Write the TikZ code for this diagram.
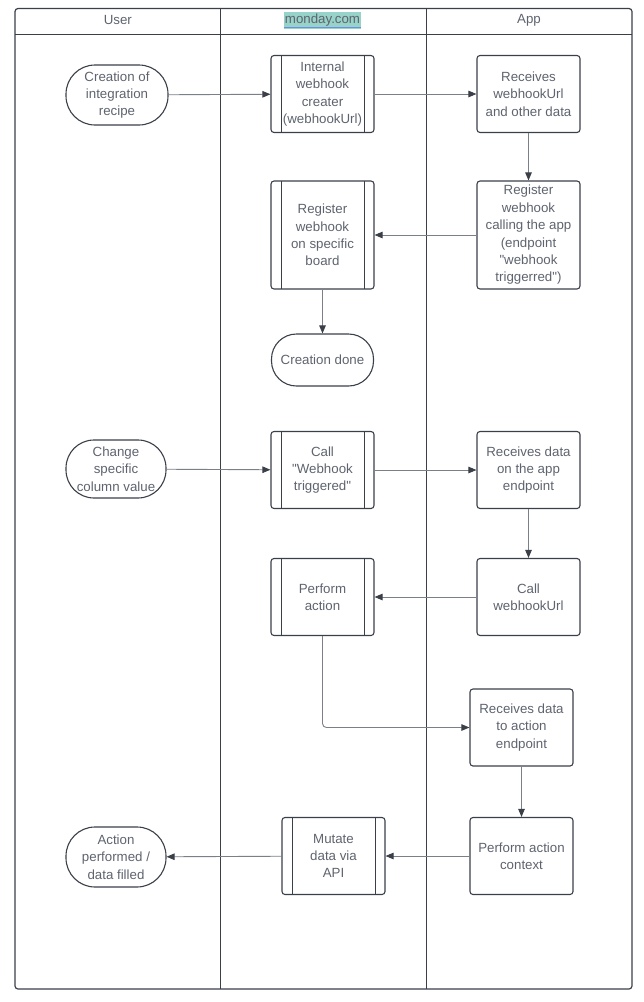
\documentclass[tikz,border=0pt]{standalone}
\usepackage{fontspec}
\setmainfont{Liberation Sans}
\usetikzlibrary{arrows.meta}
\definecolor{txt}{HTML}{5E636E}
\definecolor{frm}{HTML}{3B3F48}
\definecolor{con}{HTML}{7A7F88}
\definecolor{hl}{HTML}{97D3C8}
\definecolor{ul}{HTML}{6A8EE0}
\newcommand{\qq}{\XeTeXglyph\XeTeXcharglyph34\relax}
\tikzset{
  base/.style={draw=frm, line width=1.1pt, text=txt, align=center,
    font=\fontsize{13.3}{17.4}\selectfont, inner sep=1pt},
  terminal/.style={base, minimum width=102pt, minimum height=60pt, rounded corners=29pt},
  procbox/.style={base, minimum width=103pt, minimum height=77pt, rounded corners=3pt},
  subproc/.style={procbox, path picture={
      \draw[frm, line width=0.9pt] ([xshift=10pt]path picture bounding box.north west) -- ([xshift=10pt]path picture bounding box.south west);
      \draw[frm, line width=0.9pt] ([xshift=-10pt]path picture bounding box.north east) -- ([xshift=-10pt]path picture bounding box.south east);}},
  conn/.style={draw=con, line width=0.9pt, -{Triangle[length=8pt,width=6.5pt,fill=frm,color=frm]}},
  hdr/.style={text=txt, font=\fontsize{13.3}{16}\selectfont}
}
\begin{document}
\begin{tikzpicture}[x=1pt,y=-1pt]
\useasboundingbox (0,0) rectangle (644,1002);
% frame
\draw[frm, line width=1.2pt, rounded corners=3pt] (15,8.5) rectangle (632,989);
\draw[frm, line width=1.2pt] (15,34.5) -- (632,34.5);
\draw[frm, line width=1.2pt] (220.7,8.5) -- (220.7,989);
\draw[frm, line width=1.2pt] (426.3,8.5) -- (426.3,989);
% headers
\node[hdr] (hUser) at (117.8,20) {User};
\node[hdr, fill=hl, inner xsep=1pt, inner ysep=2.5pt] (hMon) at (322.5,20.5) {monday.com};
\draw[ul, line width=1pt] ([yshift=2.2pt]hMon.south west) -- ([yshift=2.2pt]hMon.south east);
\node[hdr] (hApp) at (529,20) {App};

% nodes
\node[terminal] (recipe) at (117,95) {Creation of\\integration\\recipe};
\node[subproc] (internal) at (322.5,94) {Internal\\webhook\\creater\\(webhookUrl)};
\node[procbox] (recv1) at (528.5,94) {Receives\\webhookUrl\\and other data};
\node[procbox, minimum height=108pt] (regapp) at (528.5,235) {Register\\webhook\\calling the app\\(endpoint\\\qq webhook\\triggerred\qq)};
\node[subproc, minimum height=108pt] (regboard) at (322.5,235) {Register\\webhook\\on specific\\board};
\node[terminal, minimum height=52pt, rounded corners=25pt] (done) at (322.5,360) {Creation done};

\node[terminal, minimum width=100pt, minimum height=58pt, rounded corners=28pt] (change) at (116,469) {Change\\specific\\column value};
\node[subproc] (callwh) at (322.5,470) {Call\\\qq Webhook\\triggered\qq};
\node[procbox] (recv2) at (528.5,470) {Receives data\\on the app\\endpoint};
\node[procbox] (callurl) at (528.5,597) {Call\\webhookUrl};
\node[subproc] (perform) at (322.5,597) {Perform\\action};
\node[procbox] (recv3) at (521.5,727.5) {Receives data\\to action\\endpoint};
\node[procbox] (context) at (521.5,856) {Perform action\\context};
\node[subproc] (mutate) at (333.5,856) {Mutate\\data via\\API};
\node[terminal, minimum width=100pt] (result) at (116,857) {Action\\performed /\\data filled};

% connectors
\draw[conn] (recipe) -- (internal);
\draw[conn] (internal) -- (recv1);
\draw[conn] (recv1) -- (regapp);
\draw[conn] (regapp) -- (regboard);
\draw[conn] (regboard) -- (done);
\draw[conn] (change) -- (callwh);
\draw[conn] (callwh) -- (recv2);
\draw[conn] (recv2) -- (callurl);
\draw[conn] (callurl) -- (perform);
\draw[conn, rounded corners=4pt] (perform.south) |- (recv3.west);
\draw[conn] (recv3) -- (context);
\draw[conn] (context) -- (mutate);
\draw[conn] (mutate) -- (result);
\end{tikzpicture}
\end{document}
